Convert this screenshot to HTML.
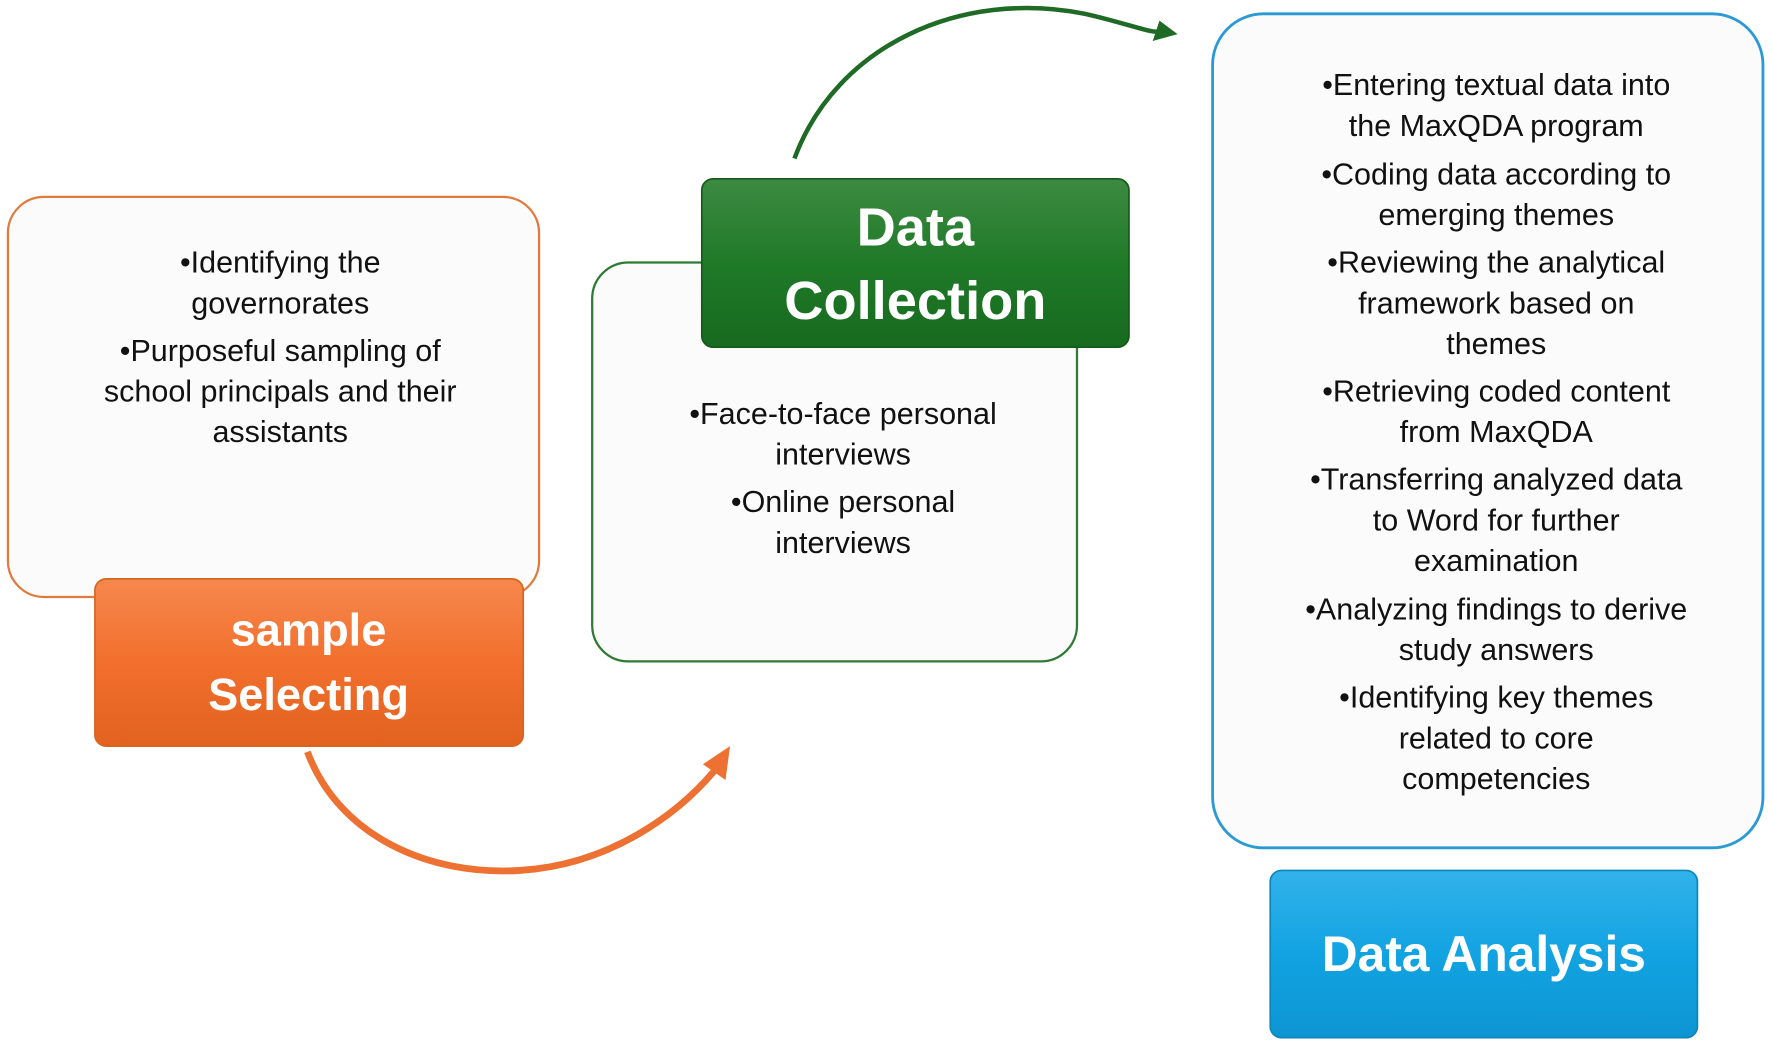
<!DOCTYPE html>
<html><head><meta charset="utf-8"><style>html,body{margin:0;padding:0;background:#fff}svg{display:block}</style></head>
<body>
<svg width="1772" height="1047" viewBox="0 0 1568 926" xmlns="http://www.w3.org/2000/svg" font-family="Liberation Sans, sans-serif">
<defs>
<linearGradient id="og" x1="0" y1="0" x2="0" y2="1"><stop offset="0" stop-color="#f6884e"/><stop offset="0.5" stop-color="#f26f2c"/><stop offset="1" stop-color="#e2621f"/></linearGradient>
<linearGradient id="gg" x1="0" y1="0" x2="0" y2="1"><stop offset="0" stop-color="#3d8a43"/><stop offset="0.5" stop-color="#1f7a27"/><stop offset="1" stop-color="#176a1f"/></linearGradient>
<linearGradient id="bg" x1="0" y1="0" x2="0" y2="1"><stop offset="0" stop-color="#32b2ea"/><stop offset="0.5" stop-color="#12a3e2"/><stop offset="1" stop-color="#0d95d2"/></linearGradient>
</defs>
<rect x="7" y="174" width="470" height="354" rx="32" fill="#fbfbfb" stroke="#e07b3f" stroke-width="2"/>
<g font-size="27" fill="#111" text-anchor="middle">
<text x="248" y="241">•Identifying the</text>
<text x="248" y="277">governorates</text>
<text x="248" y="319">•Purposeful sampling of</text>
<text x="248" y="355">school principals and their</text>
<text x="248" y="391">assistants</text>
</g>
<rect x="84" y="512" width="379" height="148" rx="10" fill="url(#og)" stroke="#d7651f" stroke-width="1.5"/>
<g font-size="40" font-weight="bold" fill="#fff" text-anchor="middle">
<text x="273" y="571">sample</text><text x="273" y="628">Selecting</text></g>
<rect x="524" y="232" width="429" height="353" rx="32" fill="#fbfbfb" stroke="#2f7a33" stroke-width="2"/>
<g font-size="27" fill="#111" text-anchor="middle">
<text x="746" y="375">•Face-to-face personal</text>
<text x="746" y="411">interviews</text>
<text x="746" y="453">•Online personal</text>
<text x="746" y="489">interviews</text>
</g>
<rect x="621" y="158" width="378" height="149" rx="10" fill="url(#gg)" stroke="#155a1b" stroke-width="1.5"/>
<g font-size="48" font-weight="bold" fill="#fff" text-anchor="middle">
<text x="810" y="217">Data</text><text x="810" y="282">Collection</text></g>
<rect x="1073" y="12" width="487" height="738" rx="45" fill="#fbfbfb" stroke="#2b9ad4" stroke-width="2.5"/>
<g font-size="27" fill="#111" text-anchor="middle">
<text x="1324" y="84">•Entering textual data into</text>
<text x="1324" y="120">the MaxQDA program</text>
<text x="1324" y="163">•Coding data according to</text>
<text x="1324" y="199">emerging themes</text>
<text x="1324" y="241">•Reviewing the analytical</text>
<text x="1324" y="277">framework based on</text>
<text x="1324" y="313">themes</text>
<text x="1324" y="355">•Retrieving coded content</text>
<text x="1324" y="391">from MaxQDA</text>
<text x="1324" y="433">•Transferring analyzed data</text>
<text x="1324" y="469">to Word for further</text>
<text x="1324" y="505">examination</text>
<text x="1324" y="548">•Analyzing findings to derive</text>
<text x="1324" y="584">study answers</text>
<text x="1324" y="626">•Identifying key themes</text>
<text x="1324" y="662">related to core</text>
<text x="1324" y="698">competencies</text>
</g>
<rect x="1124" y="770" width="378" height="148" rx="10" fill="url(#bg)" stroke="#0c86bd" stroke-width="1.5"/>
<text x="1313" y="859" font-size="44" font-weight="bold" fill="#fff" text-anchor="middle">Data Analysis</text>
<path d="M272 665 C300 740 380 775 460 770 C540 765 600 720 632 682" fill="none" stroke="#ec7132" stroke-width="6"/>
<path d="M646 660 L642 690 L622 676 Z" fill="#ec7132"/>
<path d="M703 140 C740 40 850 -10 960 12 C995 20 1015 28 1025 28" fill="none" stroke="#1f6a25" stroke-width="4"/>
<path d="M1042 30 L1020 36 L1026 18 Z" fill="#1f6a25"/>
</svg>
</body></html>
